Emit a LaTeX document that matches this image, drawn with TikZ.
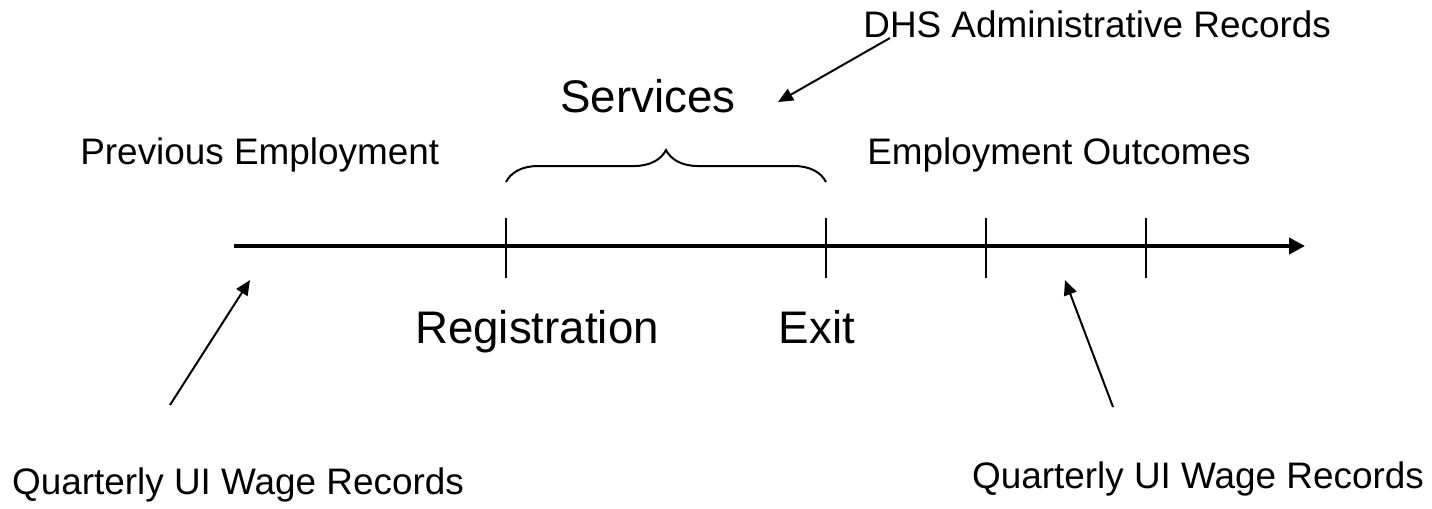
\documentclass[tikz,border=0pt]{standalone}
\usepackage{fontspec}
\setmainfont{Liberation Sans}
\usetikzlibrary{arrows.meta,decorations.pathreplacing}
\tikzset{
  tl/small/.style={font=\fontsize{21}{25}\selectfont, inner sep=0pt},
  tl/big/.style={font=\fontsize{26}{31}\selectfont, inner sep=0pt},
  tl/axis/.style={-{Triangle[length=0.32cm,width=0.32cm]}, line width=0.08cm},
  tl/tick/.style={line width=0.035cm},
  tl/brace/.style={decorate, decoration={brace,amplitude=0.64cm}, line width=0.04cm},
  tl/pointer/.style={-{Triangle[length=0.3cm,width=0.26cm]}, line width=0.04cm}
}

\begin{document}
\begin{tikzpicture}[x=0.02cm,y=-0.02cm]
  \useasboundingbox (0,0) rectangle (1432,508);
  % time axis
  \coordinate (start) at (234,246);
  \coordinate (end) at (1305,246);
  \draw[tl/axis] (start) -- (end);
  \foreach \t/\x in {reg/506,exit/826,qone/986,qtwo/1146}{
    \coordinate (\t) at (\x,246);
    \draw[tl/tick] ([yshift=0.56cm]\t) -- ([yshift=-0.64cm]\t);
  }
  \draw[tl/brace] ([yshift=1.28cm]reg) -- ([yshift=1.28cm]exit);

  % labels
  \node[tl/big,anchor=base] (services) at (648,112) {Services};
  \node[tl/big,anchor=base] (registration) at (537,343) {Registration};
  \node[tl/big,anchor=base] (exitlbl) at (817,343) {Exit};
  \node[tl/small,anchor=base west] (dhs) at (863,37) {DHS Administrative Records};
  \node[tl/small,anchor=base west] (prev) at (80,164) {Previous Employment};
  \node[tl/small,anchor=base] (outcomes) at (1059,164) {Employment Outcomes};
  \node[tl/small,anchor=base] (uileft) at (238,494) {Quarterly UI Wage Records};
  \node[tl/small,anchor=base] (uiright) at (1198,488) {Quarterly UI Wage Records};

  % pointers
  \coordinate (dhstail) at (890,38);
  \coordinate (dhstip) at (778,102);
  \coordinate (lefttail) at (170,405);
  \coordinate (lefttip) at (250,280);
  \coordinate (righttail) at (1113,407);
  \coordinate (righttip) at (1065,280);
  \draw[tl/pointer] (dhstail) -- (dhstip);
  \draw[tl/pointer] (lefttail) -- (lefttip);
  \draw[tl/pointer] (righttail) -- (righttip);
\end{tikzpicture}
\end{document}
